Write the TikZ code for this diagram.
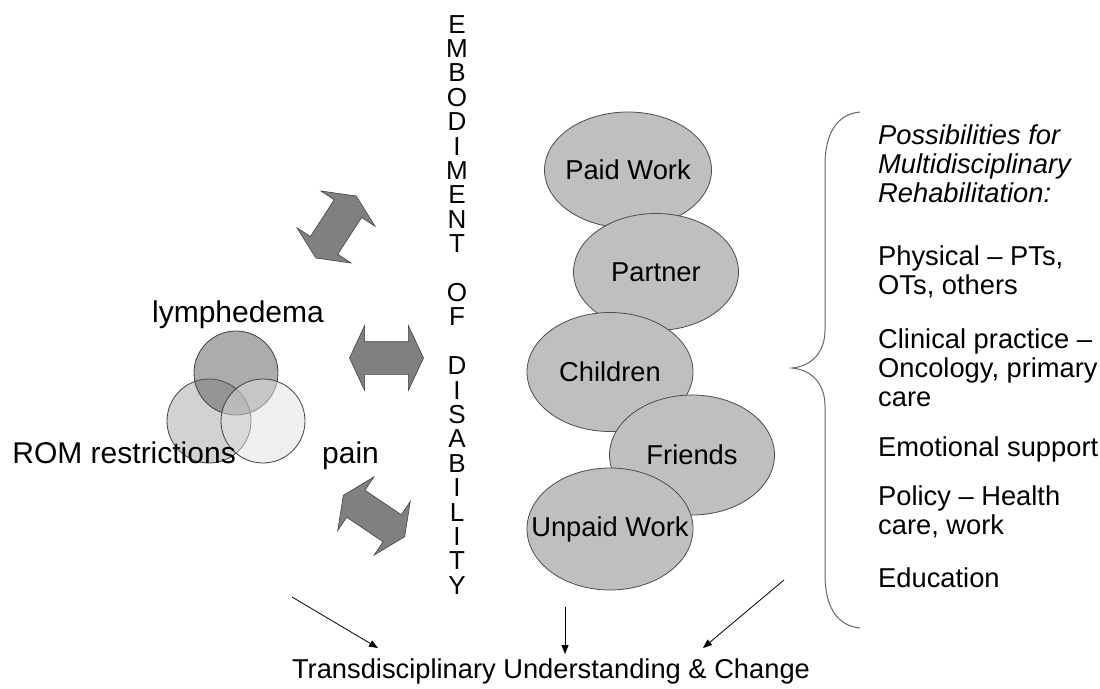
\documentclass[tikz,border=0pt]{standalone}
\usepackage{fontspec}
\setmainfont{Liberation Sans}
\usetikzlibrary{arrows.meta, shapes.geometric, shapes.arrows}

\begin{document}
\begin{tikzpicture}[
    x=1pt, y=-1pt,
    >={Triangle[length=9pt, width=7pt]},
    % Styles
    lifedomain/.style={ % Life domain ellipses
        ellipse,
        draw=black!70,
        fill=black!25,
        line width=0.8pt,
        inner sep=0pt,
        minimum width=166pt,
        minimum height=119pt,
        font=\fontsize{27.3}{29}\selectfont
    },
    venn/.style={ % Overlapping impairment circles
        circle,
        draw=black!75,
        line width=0.8pt,
        fill opacity=0.5,
        minimum size=84pt,
        inner sep=0pt
    },
    vennlabel/.style={ % Impairment names
        inner sep=0pt,
        font=\fontsize{30}{32}\selectfont
    },
    exchange/.style={ % Block double arrows
        double arrow,
        draw=black!75,
        fill=black!50,
        line width=0.6pt,
        inner xsep=0pt,
        inner ysep=16pt,
        double arrow head extend=16pt,
        double arrow tip angle=130,
        minimum height=74pt
    },
    stacked/.style={ % Stacked letters
        align=center,
        inner sep=0pt,
        font=\fontsize{26}{24.4}\selectfont
    },
    possibility/.style={ % Rehabilitation possibilities
        anchor=north west,
        align=left,
        inner sep=0pt,
        font=\fontsize{27.3}{29}\selectfont
    },
    flowarrow/.style={ % Thin arrows to the bottom line
        ->,
        line width=0.8pt
    },
    bracket/.style={
        draw=black!60,
        line width=1pt
    }
]

    % Bounding box
    \useasboundingbox (0,0) rectangle (1100,688);

    % Impairment circles
    \node [venn, fill=black!35] (rom) at (209,421) {};
    \node [venn, fill=black!65] (lymph) at (236,373) {};
    \node [venn, fill=black!12] (painc) at (263,421) {};
    \node [vennlabel] (lymphtext) at (238,315) {lymphedema};
    \node [vennlabel, anchor=base east] (romtext) at (236,463) {ROM restrictions};
    \node [vennlabel, anchor=base west] (paintext) at (322,463) {pain};

    % Block arrows
    \node [exchange, rotate=57] (arrowtop) at (336,227) {};
    \node [exchange] (arrowmid) at (386.5,358) {};
    \node [exchange, rotate=-34] (arrowbot) at (374,516) {};

    % Vertical title
    \node [stacked, anchor=north] (embody) at (457,15)
        {E\\M\\B\\O\\D\\I\\M\\E\\N\\T\\~\\O\\F\\~\\D\\I\\S\\A\\B\\I\\L\\I\\T\\Y};

    % Life domains (text kept zero-width so the ellipse keeps its size)
    \node [lifedomain, minimum width=167pt, minimum height=116pt] (paid) at (628,170) {\makebox[0pt]{Paid Work}};
    \node [lifedomain, minimum width=165pt, minimum height=117pt] (partner) at (656,272) {\makebox[0pt]{Partner}};
    \node [lifedomain] (children) at (610,372) {\makebox[0pt]{Children}};
    \node [lifedomain, minimum width=165pt, minimum height=120pt] (friends) at (692,455) {\makebox[0pt]{Friends}};
    \node [lifedomain, minimum height=122pt] (unpaid) at (610,529) {\makebox[0pt]{Unpaid Work}};

    % Brace
    \draw [bracket] (860,112) .. controls (838,114) and (825,132) .. (825,165)
        -- (825,330) .. controls (825,352) and (812,366) .. (792,368)
        .. controls (812,370) and (825,384) .. (825,406)
        -- (825,575) .. controls (825,608) and (838,626) .. (860,628);

    % Rehabilitation possibilities
    \node [possibility, font=\fontsize{27.3}{29}\selectfont\itshape] (heading) at (878,125)
        {Possibilities for\\Multidisciplinary\\Rehabilitation:};
    \node [possibility] (physical) at (878,246) {Physical -- PTs,\\OTs, others};
    \node [possibility] (clinical) at (878,329) {Clinical practice --\\Oncology, primary\\care};
    \node [possibility] (emotional) at (878,437) {Emotional support};
    \node [possibility] (policy) at (878,486) {Policy -- Health\\care, work};
    \node [possibility] (education) at (878,568) {Education};

    % Bottom line
    \node [anchor=base, inner sep=0pt, font=\fontsize{27.3}{29}\selectfont] (change) at (551,678)
        {Transdisciplinary Understanding \& Change};

    % Arrows towards the bottom line
    \coordinate (leftstart) at (292,597);
    \coordinate (leftend) at (378,648);
    \coordinate (midstart) at (565,607);
    \coordinate (midend) at (565,654);
    \coordinate (rightstart) at (784,580);
    \coordinate (rightend) at (703,648);
    \draw [flowarrow] (leftstart) -- (leftend);
    \draw [flowarrow] (midstart) -- (midend);
    \draw [flowarrow] (rightstart) -- (rightend);
\end{tikzpicture}
\end{document}
